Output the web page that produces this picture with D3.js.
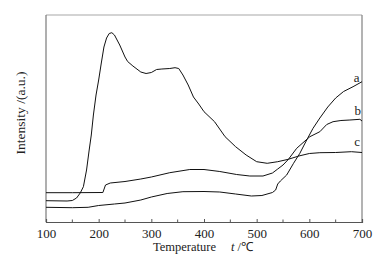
<!DOCTYPE html>
<html>
<head>
<meta charset="utf-8">
<script src="https://cdn.jsdelivr.net/npm/d3@7"></script>
<style>
  html, body { margin: 0; padding: 0; background: #fff; }
  svg { display: block; font-family: "Liberation Serif", "Times New Roman", serif; }
</style>
</head>
<body>
<div id="chart"></div>
<script>
// Curve a
const tempA = [100, 150, 180, 200, 230, 250, 280, 300, 330, 360, 400, 430, 460, 490, 510, 530, 536, 540, 545, 557, 570, 582, 595, 607, 620, 635, 650, 665, 683, 700];
const valA  = [14.7, 14.3, 14.7, 16.5, 18, 19, 22, 25, 28.5, 30.3, 30.5, 30, 28, 26, 26.5, 29.5, 32, 38, 41, 47, 58.7, 68.7, 82, 93.7, 104, 115, 124, 130.5, 135.3, 140.3];

// Curve b
const tempB = [100, 150, 208, 213, 222, 250, 280, 300, 335, 373, 400, 430, 462, 487, 512, 530, 540, 550, 560, 576, 588, 601, 620, 633, 645, 660, 677, 696, 700];
const valB  = [29.3, 29.3, 29.5, 37, 39, 40.5, 43, 45, 49.3, 52.5, 52.5, 50.5, 47.5, 46, 46, 49, 53, 57, 62.5, 73.7, 79.3, 85.3, 90.3, 97.5, 100.3, 101.5, 102, 102.7, 101];

// Curve c
const tempC = [100, 140, 150, 158, 165, 171, 177, 182, 186, 190, 195, 200, 205, 210, 215, 220, 225, 230, 240, 250, 255, 265, 280, 290, 300, 310, 320, 335, 345, 352, 360, 370, 380, 390, 400, 420, 440, 460, 480, 500, 520, 540, 560, 580, 600, 620, 650, 680, 700];
const valC  = [21.3, 21, 21.5, 24, 29, 35.3, 52, 72, 87, 107, 127, 142, 159, 175, 184, 188.5, 189.3, 187, 177, 165, 160.5, 156, 150, 148.5, 149.5, 152.5, 153, 153.5, 154.3, 153.5, 147, 137, 125, 118, 110.3, 100.3, 85.3, 75.3, 67, 60.3, 58.7, 60.3, 62.7, 66, 68.5, 69.3, 69.5, 70.3, 69.5];

const curveNames = ["a", "b", "c"];
const labelT = [690, 692, 691];
const labelV = [140, 107.5, 76];
const xTicks = [100, 200, 300, 400, 500, 600, 700];

const W = 374, H = 260;
const margin = { top: 15, right: 12, bottom: 38, left: 46 };

const svg = d3.select("#chart").append("svg")
  .attr("width", W)
  .attr("height", H);

const x = d3.scaleLinear().domain([100, 700]).range([margin.left, W - margin.right]);
const y = d3.scaleLinear().domain([0, 207]).range([H - margin.bottom, margin.top]);

// frame: top and right in lighter gray
svg.append("line")
  .attr("x1", x(100)).attr("x2", x(700))
  .attr("y1", y(207)).attr("y2", y(207))
  .attr("stroke", "#c4c4c4").attr("stroke-width", 1.5);
svg.append("line")
  .attr("x1", x(700)).attr("x2", x(700))
  .attr("y1", y(207)).attr("y2", y(0))
  .attr("stroke", "#8a8a8a").attr("stroke-width", 1.3);
svg.append("line")
  .attr("x1", x(100)).attr("x2", x(100))
  .attr("y1", y(207)).attr("y2", y(0))
  .attr("stroke", "#7a7a7a").attr("stroke-width", 1.2);

// x axis, ticks pointing inward
const xAxis = svg.append("g")
  .attr("transform", `translate(0,${y(0)})`)
  .call(d3.axisBottom(x).tickValues(xTicks).tickSize(-3).tickPadding(7).tickFormat(d3.format("d")));
xAxis.select(".domain").attr("stroke", "#555").attr("stroke-width", 1.2);
xAxis.selectAll(".tick line").attr("stroke", "#555");
xAxis.selectAll("text")
  .attr("font-size", "13px")
  .attr("fill", "#222")
  .attr("font-family", "Liberation Serif, serif");

// minor ticks
svg.append("g").selectAll("line")
  .data(d3.range(150, 700, 100))
  .join("line")
  .attr("x1", d => x(d)).attr("x2", d => x(d))
  .attr("y1", y(0)).attr("y2", y(0) - 2.5)
  .attr("stroke", "#555");

// curves
const line = d3.line().x(d => x(d[0])).y(d => y(d[1]));
const series = [
  d3.zip(tempA, valA),
  d3.zip(tempB, valB),
  d3.zip(tempC, valC)
];
svg.append("g").selectAll("path")
  .data(series)
  .join("path")
  .attr("d", line)
  .attr("fill", "none")
  .attr("stroke", "#111")
  .attr("stroke-width", 1);

// curve labels
svg.append("g").selectAll("text")
  .data(curveNames)
  .join("text")
  .attr("x", (d, i) => x(labelT[i]))
  .attr("y", (d, i) => y(labelV[i]))
  .attr("text-anchor", "middle")
  .attr("font-size", "13px")
  .attr("fill", "#222")
  .text(d => d);

// axis titles
const xTitle = svg.append("text")
  .attr("y", 251)
  .attr("font-size", "12.5px")
  .attr("fill", "#222");
xTitle.append("tspan").attr("x", 153).text("Temperature");
xTitle.append("tspan").attr("x", 231).attr("font-style", "italic").text("t");
xTitle.append("tspan").text(" /℃");

svg.append("text")
  .attr("transform", `translate(25,${113}) rotate(-90)`)
  .attr("text-anchor", "middle")
  .attr("font-size", "13.5px")
  .attr("fill", "#222")
  .text("Intensity /(a.u.)");
</script>
</body>
</html>
